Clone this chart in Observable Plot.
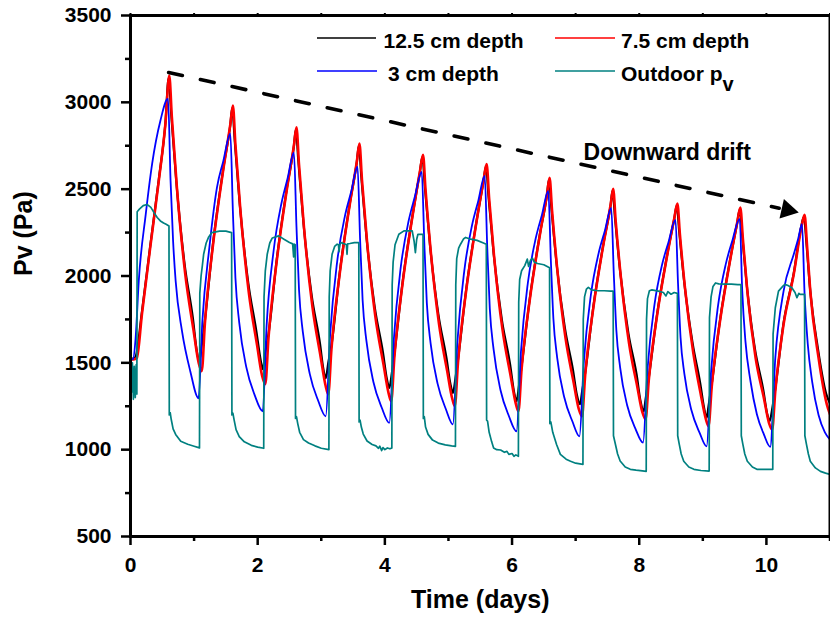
<!DOCTYPE html>
<html><head><meta charset="utf-8">
<script src="https://cdn.jsdelivr.net/npm/d3@7"></script>
<script src="https://cdn.jsdelivr.net/npm/@observablehq/plot@0.6"></script>
<style>
body{margin:0;background:#fff;}
#chart{position:relative;width:830px;height:623px;}
</style></head><body><div id="chart"></div>
<script>
const FONT = "Arial, 'Liberation Sans', Helvetica, sans-serif";

const seriesNames = ["12.5 cm depth", "7.5 cm depth", "3 cm depth", "Outdoor p"];
const seriesColors = ["#000000", "#ff0000", "#0000ff", "#008080"];

// [time (days), vapour pressure (Pa)]
const depth125 = [
[0,1525],[0.05,1525],[0.08,1535],[0.18,1795],[0.31,2172],[0.445,2556],[0.55,2885],[0.60,3140],
[0.64,2935],[0.72,2545],[0.85,2070],[0.98,1760],[1.04,1575],[1.08,1510],
[1.12,1600],[1.17,1745],[1.30,2195],[1.46,2620],[1.57,2872],[1.60,2968],
[1.64,2775],[1.72,2405],[1.85,1965],[1.98,1680],[2.04,1530],[2.08,1463],
[2.12,1560],[2.17,1665],[2.30,2095],[2.46,2507],[2.57,2750],[2.60,2843],
[2.64,2660],[2.72,2305],[2.85,1885],[2.98,1610],[3.03,1470],[3.07,1411],
[3.11,1500],[3.16,1600],[3.29,2020],[3.45,2420],[3.56,2660],[3.59,2750],
[3.63,2570],[3.71,2228],[3.84,1822],[3.97,1560],[4.03,1410],[4.07,1356],
[4.11,1440],[4.15,1552],[4.28,1968],[4.44,2360],[4.55,2597],[4.59,2686],
[4.63,2510],[4.71,2178],[4.84,1782],[4.97,1525],[5.03,1380],[5.07,1327],
[5.11,1410],[5.15,1517],[5.28,1926],[5.44,2312],[5.55,2544],[5.59,2632],
[5.63,2460],[5.71,2132],[5.84,1747],[5.97,1490],[6.03,1335],[6.07,1279],
[6.11,1370],[6.15,1480],[6.28,1873],[6.44,2245],[6.55,2469],[6.58,2553],
[6.62,2388],[6.70,2072],[6.83,1702],[6.96,1455],[7.02,1315],[7.07,1262],
[7.10,1330],[7.15,1442],[7.28,1828],[7.44,2191],[7.55,2408],[7.58,2490],
[7.62,2330],[7.70,2027],[7.83,1670],[7.96,1430],[8.02,1280],[8.07,1221],
[8.10,1290],[8.15,1413],[8.28,1778],[8.44,2122],[8.55,2328],[8.59,2405],
[8.63,2252],[8.71,1957],[8.84,1612],[8.96,1380],[9.02,1240],[9.06,1183],
[9.09,1250],[9.14,1377],[9.27,1745],[9.43,2095],[9.54,2304],[9.58,2382],
[9.62,2232],[9.69,1952],[9.82,1578],[9.95,1345],[10.01,1210],[10.05,1163],
[10.09,1232],[10.14,1352],[10.27,1730],[10.43,2016],[10.55,2290],[10.59,2340],
[10.63,2188],[10.68,1952],[10.81,1582],[10.94,1322],[11.0,1265]
];

const depth75 = [
[0,1520],[0.05,1520],[0.1,1528],[0.18,1781],[0.31,2163],[0.445,2548],[0.55,2880],[0.61,3154],
[0.65,2916],[0.73,2507],[0.86,2014],[0.99,1690],[1.07,1503],[1.12,1452],
[1.17,1727],[1.30,2186],[1.46,2614],[1.57,2874],[1.61,2981],
[1.65,2756],[1.73,2371],[1.86,1906],[1.99,1602],[2.07,1425],[2.12,1377],
[2.17,1643],[2.30,2087],[2.46,2501],[2.57,2752],[2.61,2856],
[2.65,2641],[2.73,2272],[2.86,1826],[2.99,1534],[3.07,1365],[3.11,1319],
[3.16,1579],[3.29,2012],[3.45,2416],[3.56,2661],[3.60,2762],
[3.64,2554],[3.72,2198],[3.85,1768],[3.98,1487],[4.06,1323],[4.10,1279],
[4.15,1534],[4.28,1960],[4.44,2357],[4.55,2599],[4.60,2698],
[4.64,2495],[4.72,2148],[4.85,1728],[4.98,1453],[5.06,1293],[5.10,1250],
[5.15,1501],[5.28,1919],[5.44,2309],[5.55,2546],[5.60,2644],
[5.64,2445],[5.72,2103],[5.85,1691],[5.98,1420],[6.06,1264],[6.10,1221],
[6.15,1463],[6.28,1866],[6.44,2242],[6.55,2471],[6.59,2565],
[6.63,2373],[6.71,2043],[6.84,1645],[6.97,1384],[7.05,1233],[7.10,1192],
[7.15,1428],[7.28,1821],[7.44,2188],[7.55,2410],[7.59,2502],
[7.63,2316],[7.71,1998],[7.84,1613],[7.97,1361],[8.05,1215],[8.10,1175],
[8.15,1399],[8.28,1771],[8.44,2119],[8.55,2330],[8.60,2417],
[8.64,2238],[8.72,1930],[8.85,1558],[8.97,1314],[9.05,1173],[9.09,1135],
[9.14,1362],[9.27,1739],[9.43,2092],[9.54,2306],[9.59,2394],
[9.63,2215],[9.70,1913],[9.83,1529],[9.96,1298],[10.04,1155],[10.09,1115],
[10.14,1337],[10.27,1721],[10.43,2010],[10.56,2298],[10.60,2352],
[10.64,2170],[10.69,1913],[10.82,1529],[10.95,1261],[11.0,1204]
];

const depth3 = [
[0,1520],[0.04,1522],[0.08,1640],[0.13,1971],[0.24,2356],[0.34,2646],[0.47,2894],[0.59,3021],
[0.63,2548],[0.67,2200],[0.71,1971],[0.81,1683],[0.94,1452],[1.07,1296],
[1.13,1740],[1.24,2163],[1.36,2510],[1.46,2663],[1.57,2819],
[1.61,2372],[1.65,1988],[1.71,1732],[1.82,1477],[1.95,1317],[2.08,1221],
[2.14,1712],[2.25,2144],[2.37,2412],[2.47,2561],[2.57,2710],
[2.61,2285],[2.65,1921],[2.71,1678],[2.82,1435],[2.95,1283],[3.07,1192],
[3.14,1666],[3.25,2083],[3.37,2342],[3.47,2485],[3.57,2629],
[3.61,2216],[3.65,1862],[3.71,1626],[3.82,1390],[3.95,1243],[4.07,1154],
[4.14,1631],[4.25,2051],[4.37,2311],[4.47,2455],[4.58,2600],
[4.62,2193],[4.66,1844],[4.72,1611],[4.83,1379],[4.96,1233],[5.07,1146],
[5.14,1618],[5.25,2033],[5.37,2291],[5.47,2434],[5.57,2577],
[5.61,2165],[5.65,1812],[5.71,1577],[5.82,1341],[5.95,1194],[6.07,1106],
[6.14,1563],[6.25,1964],[6.37,2213],[6.47,2352],[6.57,2490],
[6.61,2094],[6.65,1755],[6.71,1529],[6.82,1303],[6.95,1162],[7.06,1077],
[7.13,1511],[7.24,1892],[7.36,2129],[7.46,2261],[7.56,2392],
[7.60,2013],[7.64,1689],[7.70,1473],[7.81,1256],[7.94,1121],[8.06,1040],
[8.13,1463],[8.24,1835],[8.36,2066],[8.46,2195],[8.57,2323],
[8.61,1958],[8.65,1645],[8.71,1436],[8.82,1228],[8.95,1097],[9.06,1019],
[9.13,1451],[9.24,1831],[9.36,2067],[9.46,2198],[9.58,2329],
[9.62,1913],[9.67,1625],[9.75,1394],[9.85,1204],[9.96,1088],[10.06,1016],
[10.14,1529],[10.27,1913],[10.43,2125],[10.50,2215],[10.56,2298],
[10.60,1900],[10.65,1610],[10.72,1390],[10.82,1200],[10.92,1100],[11.0,1058]
];

const outdoor = [
[0,1505],[0.015,1330],[0.03,1500],[0.045,1290],[0.06,1480],[0.075,1300],[0.09,1490],[0.1,1320],
[0.105,2370],[0.14,2385],[0.2,2405],[0.26,2412],[0.32,2395],[0.37,2365],[0.42,2337],[0.47,2317],[0.52,2305],[0.56,2298],[0.605,2288],
[0.61,1200],[0.625,1212],[0.64,1175],[0.67,1120],[0.71,1088],[0.79,1048],[0.9,1031],[1.0,1020],[1.085,1010],
[1.09,1900],[1.11,2000],[1.13,2060],[1.15,2125],[1.19,2190],[1.23,2225],[1.28,2250],[1.4,2258],[1.5,2258],[1.59,2250],
[1.595,1200],[1.61,1210],[1.63,1170],[1.66,1115],[1.71,1075],[1.79,1045],[1.9,1025],[2.0,1015],[2.095,1008],
[2.10,1880],[2.12,2030],[2.15,2125],[2.19,2190],[2.23,2219],[2.33,2231],[2.42,2210],[2.5,2193],[2.55,2185],[2.565,2110],[2.575,2183],[2.59,2180],
[2.595,1180],[2.61,1190],[2.63,1150],[2.66,1100],[2.72,1058],[2.8,1038],[2.9,1022],[3.0,1008],[3.12,1000],
[3.125,1880],[3.14,2030],[3.17,2125],[3.21,2170],[3.25,2183],[3.27,2180],[3.28,2140],[3.29,2180],[3.31,2192],[3.38,2183],[3.395,2180],[3.405,2125],[3.415,2185],[3.45,2187],[3.52,2192],[3.59,2192],
[3.595,1160],[3.61,1170],[3.63,1130],[3.66,1090],[3.72,1050],[3.8,1030],[3.86,1022],[3.9,1008],[3.92,1020],[3.95,995],[3.97,1012],[4.0,1000],[4.04,1010],[4.08,1005],[4.11,1010],
[4.115,1950],[4.13,2080],[4.16,2180],[4.22,2240],[4.30,2260],[4.43,2260],[4.46,2200],[4.48,2135],[4.50,2210],[4.52,2240],[4.60,2240],
[4.605,1180],[4.62,1190],[4.64,1130],[4.68,1088],[4.75,1055],[4.84,1038],[4.95,1028],[5.05,1022],[5.11,1019],
[5.115,1950],[5.13,2100],[5.16,2160],[5.19,2183],[5.24,2215],[5.27,2222],[5.35,2212],[5.45,2205],[5.55,2190],[5.595,2183],
[5.60,1170],[5.615,1165],[5.64,1100],[5.68,1045],[5.71,1010],[5.76,1000],[5.82,998],[5.88,985],[5.92,990],[5.95,973],[6.0,978],[6.03,962],[6.06,970],[6.10,962],
[6.105,1850],[6.12,1980],[6.15,2030],[6.2,2060],[6.24,2097],[6.26,2055],[6.29,2090],[6.32,2103],[6.35,2080],[6.4,2072],[6.5,2065],[6.59,2048],
[6.595,1150],[6.61,1160],[6.64,1100],[6.7,1030],[6.76,973],[6.85,945],[6.92,933],[7.0,922],[7.115,915],
[7.12,1750],[7.14,1880],[7.17,1925],[7.2,1935],[7.25,1920],[7.35,1915],[7.45,1915],[7.55,1913],[7.59,1913],
[7.595,1080],[7.62,1040],[7.66,975],[7.70,935],[7.78,900],[7.86,887],[7.95,882],[8.05,878],[8.11,875],
[8.115,1750],[8.13,1870],[8.16,1915],[8.2,1920],[8.3,1913],[8.38,1905],[8.42,1885],[8.45,1910],[8.5,1895],[8.55,1905],[8.60,1900],
[8.605,1080],[8.63,1030],[8.66,975],[8.70,933],[8.78,900],[8.86,887],[8.97,880],[9.10,877],
[9.105,1760],[9.13,1880],[9.16,1940],[9.2,1960],[9.25,1955],[9.35,1953],[9.45,1953],[9.55,1950],[9.60,1950],
[9.605,1080],[9.63,1030],[9.66,975],[9.70,933],[9.78,900],[9.85,887],[9.95,887],[10.10,887],
[10.105,1665],[10.14,1817],[10.19,1913],[10.26,1942],[10.29,1952],[10.34,1945],[10.40,1932],[10.45,1905],[10.48,1875],[10.51,1900],[10.53,1894],[10.60,1894],
[10.605,1080],[10.63,1030],[10.66,975],[10.69,933],[10.77,895],[10.85,875],[10.93,865],[11.0,858]
];

const xTicks = [0, 2, 4, 6, 8, 10];
const xMinorTicks = [1, 3, 5, 7, 9, 11];
const yTicks = [500, 1000, 1500, 2000, 2500, 3000, 3500];
const yMinorTicks = [750, 1250, 1750, 2250, 2750, 3250];
const xTitle = "Time (days)";
const yTitle = "Pv (Pa)";

// annotation: dashed "downward drift" arrow (data coordinates)
const driftLine = [[0.6, 3172], [10.2, 2390]];
const driftHead = [[10.33, 2380]];
const driftLabel = [{t: 8.44, p: 2712, text: "Downward drift"}];

const rows = (arr) => arr.map(([t, p]) => ({t, p}));
const allSeries = [depth125, depth75, depth3, outdoor];
const widths = [2.2, 2.6, 1.8, 1.7];

const lineMarks = allSeries.map((s, i) =>
  Plot.line(rows(s), {x: "t", y: "p", stroke: seriesColors[i], strokeWidth: widths[i],
    curve: i === 3 ? "linear" : "monotone-x"}));

const plain = d => String(d);

const plot = Plot.plot({
  width: 830, height: 623,
  marginLeft: 130, marginRight: 0.5, marginTop: 15, marginBottom: 87,
  x: {domain: [0, 11]},
  y: {domain: [500, 3500]},
  style: {fontFamily: FONT, background: "#fff", color: "#000"},
  marks: [
    ...lineMarks,
    Plot.line(driftLine, {x: d => d[0], y: d => d[1], stroke: "#000", strokeWidth: 3.6, strokeDasharray: "14,18.5"}),
    Plot.dot(driftHead, {x: d => d[0], y: d => d[1], symbol: "triangle", r: 7.5, fill: "#000", stroke: null, rotate: 102.6}),
    Plot.text(driftLabel, {x: "t", y: "p", text: "text", fontSize: 23, fontWeight: "bold", fill: "#000"}),
    Plot.frame({stroke: "#000", strokeWidth: 3}),
    Plot.axisX({ticks: xTicks, tickFormat: plain, tickSize: 9, tickPadding: 12, fontSize: 21, fontWeight: "bold", strokeWidth: 2.5, label: null}),
    Plot.axisX({ticks: xMinorTicks, tickSize: 5, tickFormat: () => "", strokeWidth: 2.5, label: null}),
    Plot.axisX({anchor: "top", ticks: [...xTicks, ...xMinorTicks], tickSize: 3, tickFormat: () => "", strokeWidth: 2, label: null}),
    Plot.axisY({ticks: yTicks, tickFormat: plain, tickSize: 9, tickPadding: 10, fontSize: 21, fontWeight: "bold", strokeWidth: 2.5, label: null}),
    Plot.axisY({ticks: yMinorTicks, tickSize: 5, tickFormat: () => "", strokeWidth: 2.5, label: null}),
    Plot.text([xTitle], {frameAnchor: "bottom", dy: 71, text: d => d, fontSize: 25, fontWeight: "bold"}),
    Plot.text([yTitle], {frameAnchor: "left", dx: -107, rotate: -90, text: d => d, fontSize: 25, fontWeight: "bold"})
  ]
});

document.getElementById("chart").appendChild(plot);

// Legend drawn inside the plot area
const svg = d3.select(plot);
const legendLayout = [
  {x1: 317, x2: 376, y: 38, tx: 383.5, ty: 47.5},
  {x1: 555, x2: 615, y: 38, tx: 621, ty: 47.5},
  {x1: 317, x2: 377, y: 71, tx: 388, ty: 80.5},
  {x1: 555, x2: 615, y: 71, tx: 621, ty: 80.5}
];
const lg = svg.append("g").attr("font-family", FONT).attr("font-weight", "bold")
  .attr("font-size", 21).attr("text-anchor", "start");
seriesNames.forEach((name, i) => {
  const L = legendLayout[i];
  lg.append("line").attr("x1", L.x1).attr("x2", L.x2).attr("y1", L.y).attr("y2", L.y)
    .attr("stroke", seriesColors[i]).attr("stroke-width", 1.4);
  const t = lg.append("text").attr("x", L.tx).attr("y", L.ty).attr("fill", "#000")
    .attr("text-anchor", "start").text(name);
  if (i === 3) t.append("tspan").attr("dy", 10).attr("font-size", 20).text("v");
});
</script>
</body></html>
